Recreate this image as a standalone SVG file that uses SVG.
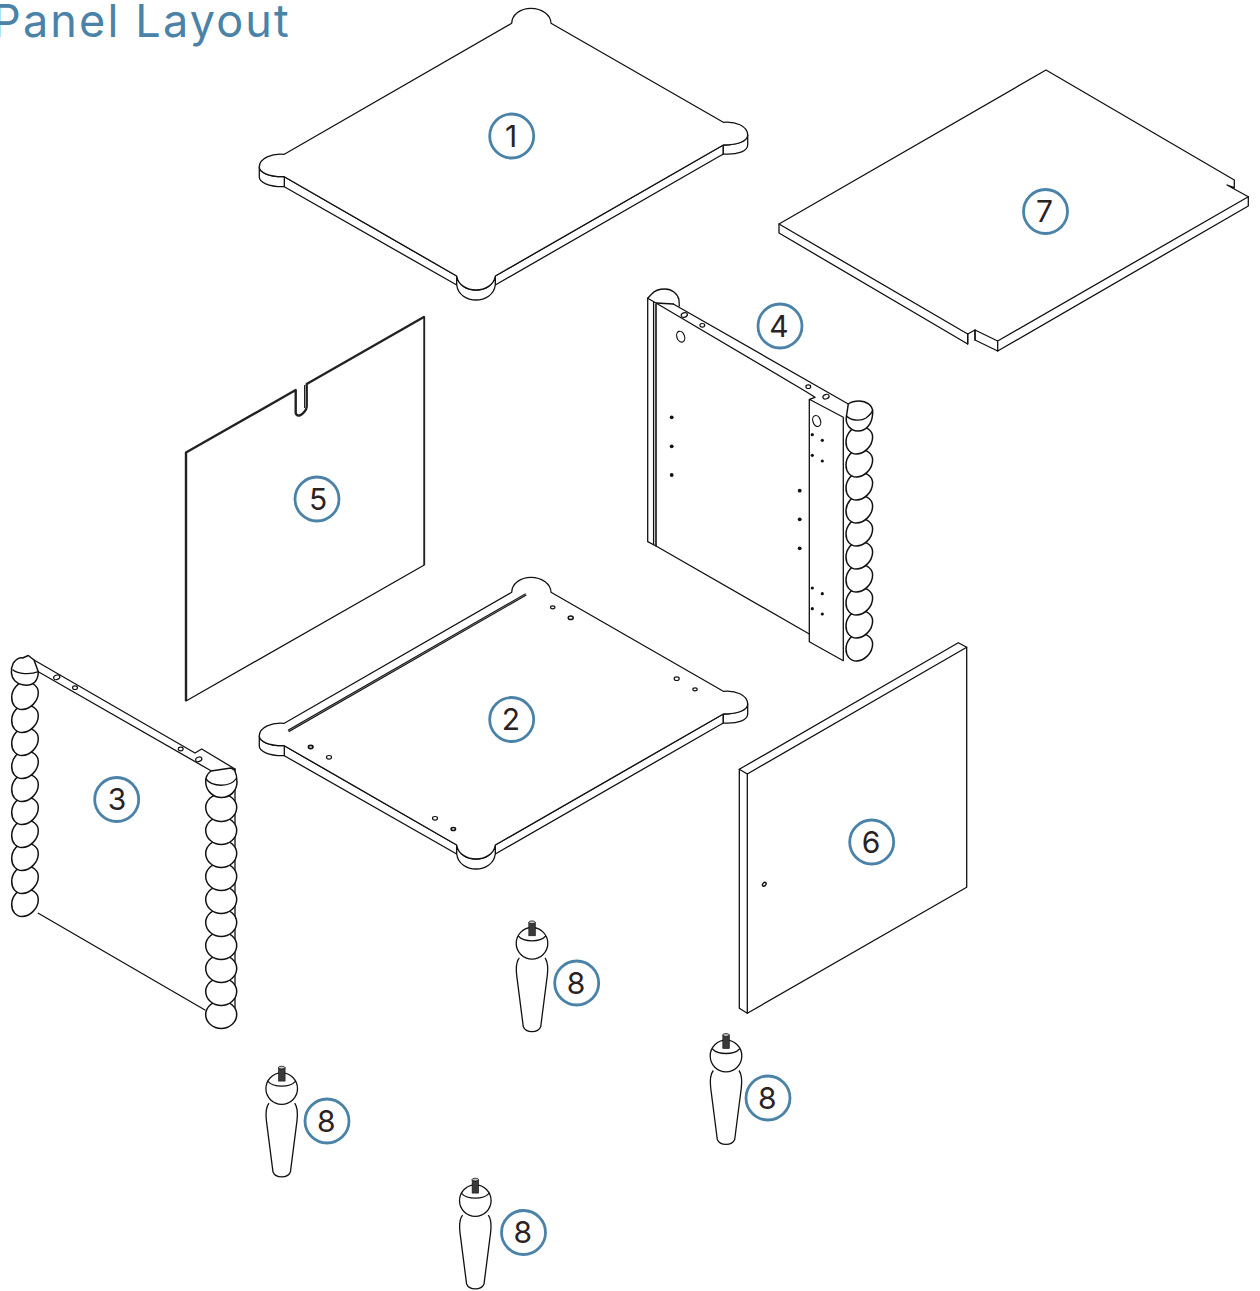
<svg xmlns="http://www.w3.org/2000/svg" width="1260" height="1291" viewBox="0 0 1260 1291">
<style>
.l{fill:none;stroke:#111;stroke-width:1.3;stroke-linejoin:round;stroke-linecap:round}
.f{fill:#fff;stroke:#111;stroke-width:1.3;stroke-linejoin:round}
.b{fill:#fff;stroke:#111;stroke-width:1.5;stroke-linejoin:round}
.h{fill:#fff;stroke:#111;stroke-width:1.2}
.d{fill:#111}
.ring{fill:#fff;stroke:#4a82a8;stroke-width:2.8}
.num{font-family:"Inter","Liberation Sans",sans-serif;font-size:30px;fill:#2b2222;text-anchor:middle}
.title{font-family:"Inter","Liberation Sans",sans-serif;font-size:45px;fill:#4a82a8;letter-spacing:2.15px}
</style>
<defs>
<path id="bead" class="b" d="M-13.3,2C-13.3,-6 -7,-13.5 0,-13.5C8,-13.5 13.3,-9 13.3,-3C13.3,6 5,14 -3,14C-9,14 -13.3,9 -13.3,2Z"/>
<path id="beadw" class="b" d="M-15.5,0C-15.5,-8 -8,-13.5 0,-13.5C8,-13.5 15.5,-8 15.5,0C15.5,8 8,14 0,14C-8,14 -15.5,8 -15.5,0Z"/>
<g id="top">
<path class="f" d="M284.3,176.7V186.7L456.7,285V276L284.3,176.7Z"/>
<path class="f" d="M495.3,276V285L723.3,154V145L495.3,276Z"/>
<path class="f" d="M259.3,167V177C259.3,182 268,187 284.3,186.7V176.7C268,177 259.3,172 259.3,167Z"/>
<path class="f" d="M747.7,135V145C747.7,151 738,155 723.3,154V145C738,145 747.7,141 747.7,135Z"/>
<path class="f" d="M456.7,276V285C458,295 467,300 476,300C485,300 494,295 495.3,285V276C494,285 485,290 476,290C467,290 458,285 456.7,276Z"/>
<path class="f" d="M511.7,23.3C511.7,15 520,8.3 531,8.3C542,8.3 551,15 551,23.3L723.3,122.3C735,121 747.7,126 747.7,135C747.7,141 738,145 723.3,145L495.3,276C494,285 485,290 476,290C467,290 458,285 456.7,276L284.3,176.7C268,177 259.3,172 259.3,167C259.3,158 272,153 284.3,154.3Z"/>
</g>
<g id="leg">
<path class="f" d="M-12.7,14.5C-15.5,18 -16,26 -15.3,32L-8.7,83.5C-6,90 6,90 8.7,83.5L15.3,32C16,26 15.5,18 13,14.5"/>
<circle class="f" cx="0" cy="0" r="15.8"/>
<path class="l" d="M-13.5,-7C-8,-1 8,-1 13.5,-7"/>
<rect x="-3.2" y="-21" width="6.6" height="13.5" fill="#3a3a3a" stroke="#111" stroke-width=".6"/>
<ellipse cx="0" cy="-21" rx="3.2" ry="1.4" fill="#ccc" stroke="#111" stroke-width=".8"/>
</g>
</defs>
<rect width="1260" height="1291" fill="#fff"/>
<text class="title" x="-8" y="37">Panel Layout</text>

<g id="panel-1"><use href="#top"/>
<circle class="ring" cx="511.7" cy="136" r="22"/><text class="num" x="511" y="146.5">1</text></g>

<g id="panel-2"><use href="#top" y="569"/>
<path d="M288.3,731L526,594.3" fill="none" stroke="#111" stroke-width="2.6"/>
<path d="M288.3,731L526,594.3" fill="none" stroke="#999" stroke-width=".7"/>
<ellipse class="h" cx="552.7" cy="607.3" rx="2.2" ry="1.5"/><ellipse class="h" cx="570.7" cy="617.7" rx="2.5" ry="1.8" style="stroke-width:1.5"/>
<ellipse class="h" cx="676.7" cy="678.7" rx="2.5" ry="1.8"/><ellipse class="h" cx="695" cy="689.3" rx="2.2" ry="1.5"/>
<ellipse class="h" cx="310.7" cy="747" rx="2.3" ry="1.6" style="stroke-width:1.6"/><ellipse class="h" cx="329" cy="757.3" rx="2.5" ry="1.8"/>
<ellipse class="h" cx="435" cy="818.3" rx="2.5" ry="1.8"/><ellipse class="h" cx="453.3" cy="829" rx="2.2" ry="1.5" style="stroke-width:1.6"/>
<circle class="ring" cx="511.7" cy="719.5" r="22"/><text class="num" x="511" y="730">2</text></g>

<g id="panel-3">
<path class="l" d="M235,769V1008"/>
<path class="l" d="M34,660L195,753L201.7,749L235,769"/>
<path class="l" d="M38.3,671.7L212.7,771.7"/>
<path class="l" d="M38.3,913.3L205,1010"/>
<ellipse class="h" cx="56.7" cy="677.3" rx="3.2" ry="2.2" transform="rotate(-20 56.7 677.3)"/><ellipse class="h" cx="75" cy="687.7" rx="2.4" ry="1.8"/>
<ellipse class="h" cx="180.7" cy="749" rx="2.4" ry="1.8"/><ellipse class="h" cx="198.7" cy="759.3" rx="3.2" ry="2.2" transform="rotate(-20 198.7 759.3)"/>
<use href="#bead" x="25" y="902.5"/><use href="#bead" x="25" y="879.5"/><use href="#bead" x="25" y="856.5"/><use href="#bead" x="25" y="833.5"/><use href="#bead" x="25" y="810.5"/><use href="#bead" x="25" y="787.5"/><use href="#bead" x="25" y="764.5"/><use href="#bead" x="25" y="741.5"/><use href="#bead" x="25" y="718.5"/><use href="#bead" x="25" y="695.5"/>
<path class="b" d="M13.3,663C10,670 11,677 15,681C19,685 26,686 31,684.5C36,683 38.5,677 38.3,671.7L34,660L28.3,655.5L22.7,658C20,657 16,659 13.3,663Z"/>
<path class="l" d="M13,670C18,674 30,675 38.3,671.7"/>
<use href="#beadw" x="221.2" y="1014.5"/><use href="#beadw" x="221.2" y="991.5"/><use href="#beadw" x="221.2" y="968.5"/><use href="#beadw" x="221.2" y="945.5"/><use href="#beadw" x="221.2" y="922.5"/><use href="#beadw" x="221.2" y="899.5"/><use href="#beadw" x="221.2" y="876.5"/><use href="#beadw" x="221.2" y="853.5"/><use href="#beadw" x="221.2" y="830.5"/><use href="#beadw" x="221.2" y="807.5"/>
<path class="b" d="M211,771C207,774 205.5,778 205.7,782C206,791 213,797.5 221.5,797.5C230,797.5 237,791 237,782C237,777 236,773 234.5,770L231,768Z"/>
<path class="l" d="M206,779C212,787 230,788 236.7,778"/>
<circle class="ring" cx="116.7" cy="799.5" r="22"/><text class="num" x="117" y="810">3</text></g>

<g id="panel-4">
<path class="l" d="M647.7,298.3V541.7L656,546"/>
<path class="l" d="M653.6,302V544.5"/>
<path d="M656,304V546" fill="none" stroke="#111" stroke-width="1.6"/>
<path class="l" d="M647.7,298.3L656,303L806.7,392L815,397.3L809.3,399.3L843.3,417.3V660.7L809.3,641.7V399.3"/>
<path class="l" d="M656,546L809.3,634"/>
<path class="l" d="M673.3,304L848.3,404"/>
<path class="l" d="M647.7,298.3L651.7,294C655,290 660,289 665,289C672,289 678,294 679,300L679.3,306M656,303L673.3,304"/>
<ellipse class="h" cx="684.3" cy="315" rx="3.2" ry="2.2" transform="rotate(-20 684.3 315)"/><ellipse class="h" cx="702.3" cy="325.3" rx="2.4" ry="1.8"/>
<ellipse class="h" cx="808.3" cy="386.7" rx="2.4" ry="1.8"/><ellipse class="h" cx="826" cy="396.7" rx="3.2" ry="2.2" transform="rotate(-20 826 396.7)"/>
<ellipse class="h" cx="680.7" cy="336.7" rx="3.8" ry="5.6" transform="rotate(-20 680.7 336.7)"/><ellipse class="h" cx="816.7" cy="421" rx="3.8" ry="5.6" transform="rotate(-20 816.7 421)"/>
<g class="d"><circle cx="671.7" cy="417.3" r="1.9"/><circle cx="671.7" cy="446.3" r="1.9"/><circle cx="671.7" cy="475" r="1.9"/><circle cx="799.7" cy="490.7" r="1.9"/><circle cx="799.7" cy="519.3" r="1.9"/><circle cx="799.7" cy="548.3" r="1.9"/><circle cx="812.3" cy="434.7" r="1.6"/><circle cx="822.3" cy="440.3" r="1.6"/><circle cx="812.3" cy="455.3" r="1.6"/><circle cx="822.3" cy="461" r="1.6"/><circle cx="812.3" cy="588" r="1.6"/><circle cx="822.3" cy="593.7" r="1.6"/><circle cx="812.3" cy="608.7" r="1.6"/><circle cx="822.3" cy="614" r="1.6"/></g>
<use href="#bead" x="859.3" y="647"/><use href="#bead" x="859.3" y="624"/><use href="#bead" x="859.3" y="601"/><use href="#bead" x="859.3" y="578"/><use href="#bead" x="859.3" y="555"/><use href="#bead" x="859.3" y="532"/><use href="#bead" x="859.3" y="509"/><use href="#bead" x="859.3" y="486"/><use href="#bead" x="859.3" y="463"/><use href="#bead" x="859.3" y="440"/>
<path class="b" d="M846.5,416C845,424 850,431 858,431C866,431 872.7,424 872.7,412C872.7,405 866,401 859,401C855,401 851,402 848.3,404L846.5,416Z"/>
<path class="l" d="M846.5,416C850,420 860,422 866,418C870,415 872,413 872.7,410"/>
<circle class="ring" cx="780" cy="326" r="22"/><text class="num" x="779" y="336.5">4</text></g>

<g id="panel-5">
<path d="M186,701V452.5L295.7,390V413C296,415 298,416 300,415.3C303,414 306.5,410 306.7,406.7V384L424.3,316.7" fill="none" stroke="#222" stroke-width="2.4" stroke-linejoin="round"/>
<path class="l" d="M424.3,316.7V565L186,701"/>
<path d="M424.3,316.7V565" fill="none" stroke="#222" stroke-width="1.7"/>
<path d="M304.5,385V408" fill="none" stroke="#222" stroke-width="1"/>
<circle class="ring" cx="317" cy="499" r="22"/><text class="num" x="318" y="509.5">5</text></g>

<g id="panel-6">
<path class="f" d="M739.3,769.3L958.3,642.7L966.7,647.3V887.3L747.3,1013.3L739.3,1008.3Z"/>
<path class="l" d="M739.3,769.3L747.3,774L966.7,647.3M747.3,774V1013.3"/>
<ellipse cx="764.3" cy="884.3" rx="2.2" ry="1.5" class="h" style="stroke-width:1.4" transform="rotate(-50 764.3 884.3)"/>
<circle class="ring" cx="871.7" cy="842" r="22"/><text class="num" x="871" y="852.5">6</text></g>

<g id="panel-7">
<path class="f" d="M1046,70L1234.3,180V187.7L1227,185L1248.3,196.7V206L997.7,351L975,340V330L967.7,334V344L779,233V224Z"/>
<path class="l" d="M779,224L967.7,334M975,330L997.7,341L1248.3,196.7M997.7,341V351M967.7,334V344M975,330V340"/>
<circle class="ring" cx="1045.5" cy="211.5" r="22"/><text class="num" x="1044.5" y="222">7</text></g>

<g id="leg-a"><use href="#leg" x="532" y="943.3"/><circle class="ring" cx="576.7" cy="983" r="22"/><text class="num" x="576" y="993.5">8</text></g>
<g id="leg-b"><use href="#leg" x="726" y="1056"/><circle class="ring" cx="768" cy="1098" r="22"/><text class="num" x="767.3" y="1108.5">8</text></g>
<g id="leg-c"><use href="#leg" x="281.7" y="1088.6"/><circle class="ring" cx="327" cy="1121" r="22"/><text class="num" x="326.3" y="1131.5">8</text></g>
<g id="leg-d"><use href="#leg" x="475.3" y="1200.6"/><circle class="ring" cx="523.5" cy="1232.5" r="22"/><text class="num" x="522.8" y="1243">8</text></g>
</svg>
